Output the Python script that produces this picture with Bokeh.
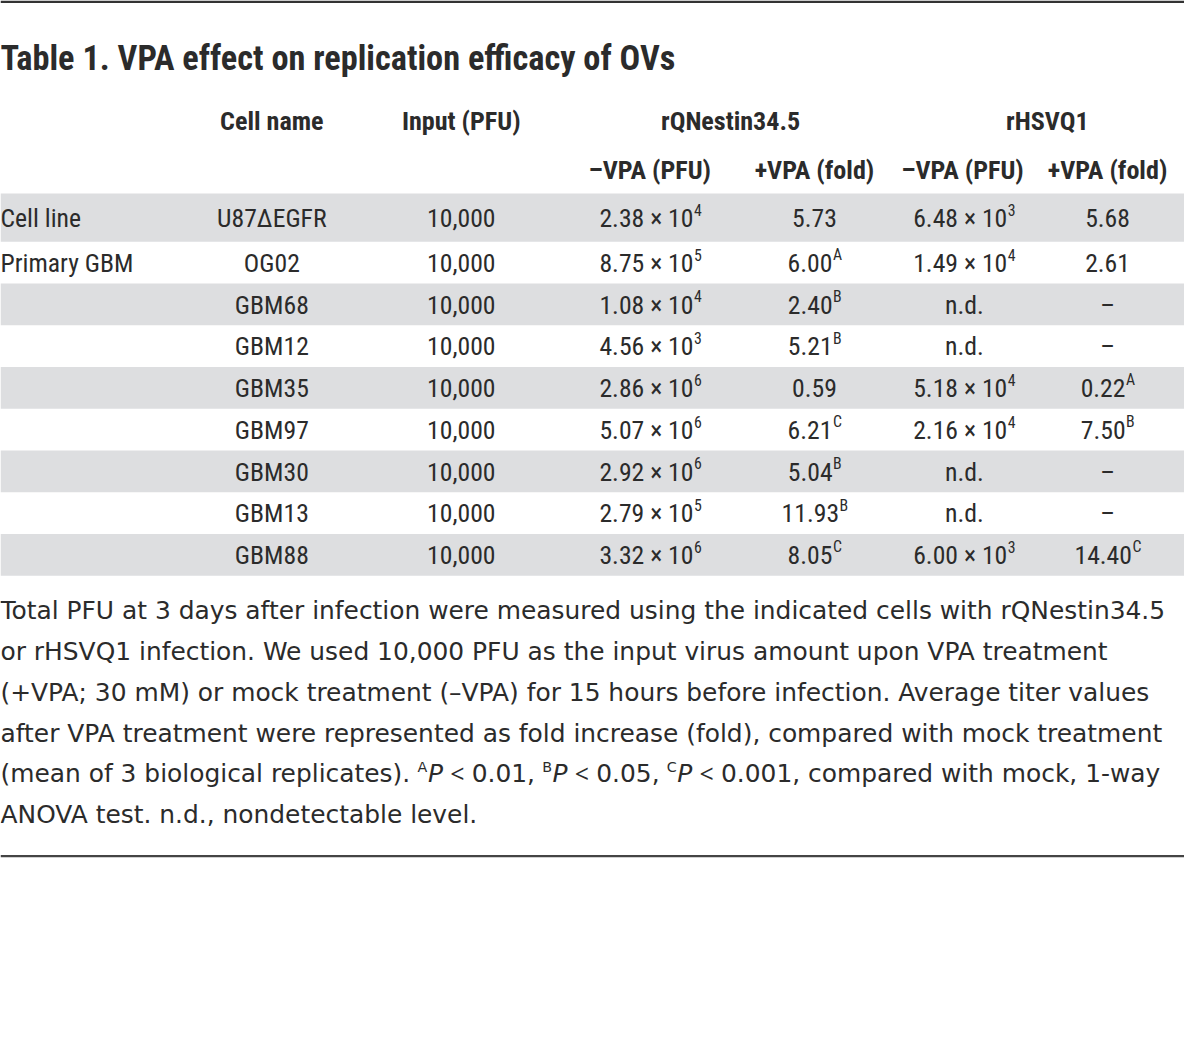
from bokeh.plotting import figure
from bokeh.models import Range1d
from bokeh.core.properties import value
from bokeh.embed import file_html
from bokeh.resources import INLINE

# ---------------- data ----------------
title = "Table 1. VPA effect on replication efficacy of OVs"
header_top = ["Cell name", "Input (PFU)", "rQNestin34.5", "rHSVQ1"]
header_sub = ["\u2013VPA (PFU)", "+VPA (fold)", "\u2013VPA (PFU)", "+VPA (fold)"]
groups = ["Cell line", "Primary GBM", "", "", "", "", "", "", ""]
cell_names = ["U87\u0394EGFR", "OG02", "GBM68", "GBM12", "GBM35", "GBM97", "GBM30", "GBM13", "GBM88"]
input_pfu = [10000, 10000, 10000, 10000, 10000, 10000, 10000, 10000, 10000]
rq_minus_mant = [2.38, 8.75, 1.08, 4.56, 2.86, 5.07, 2.92, 2.79, 3.32]
rq_minus_exp = [4, 5, 4, 3, 6, 6, 6, 5, 6]
rq_fold = [5.73, 6.00, 2.40, 5.21, 0.59, 6.21, 5.04, 11.93, 8.05]
rq_sig = ["", "A", "B", "B", "", "C", "B", "B", "C"]
hs_minus_mant = [6.48, 1.49, None, None, 5.18, 2.16, None, None, 6.00]
hs_minus_exp = [3, 4, None, None, 4, 4, None, None, 3]
hs_fold = [5.68, 2.61, None, None, 0.22, 7.50, None, None, 14.40]
hs_sig = ["", "", "", "", "A", "B", "", "", "C"]
caption_lines = [
    "Total PFU at 3 days after infection were measured using the indicated cells with rQNestin34.5",
    "or rHSVQ1 infection. We used 10,000 PFU as the input virus amount upon VPA treatment",
    "(+VPA; 30 mM) or mock treatment (\u2013VPA) for 15 hours before infection. Average titer values",
    "after VPA treatment were represented as fold increase (fold), compared with mock treatment",
    None,
    "ANOVA test. n.d., nondetectable level.",
]
caption_line5 = [
    ("(mean of 3 biological replicates). ", "n"), ("A", "s"), ("P", "i"), (" ", "n"), ("<", "o"),
    (" 0.01, ", "n"), ("B", "s"), ("P", "i"), (" ", "n"), ("<", "o"),
    (" 0.05, ", "n"), ("C", "s"), ("P", "i"), (" ", "n"), ("<", "o"),
    (" 0.001, compared with mock, 1-way", "n"),
]

# ---------------- layout ----------------
W, H = 1184, 1022
S = W / 1200.0
TXT = "#2b2b2b"
SHADE = "#dddee0"
TFONT = "Roboto Condensed, DejaVu Sans Condensed, Liberation Sans Narrow, Roboto, sans-serif"
CFONT = "DejaVu Sans, sans-serif"
OFONT = "Open Sans, Noto Sans, sans-serif"

col_x = [275, 467, 659, 825, 977, 1122]
row_y = [221] + [266.5 + 42.4 * i for i in range(8)]
row_top = [196] + [245 + 42.4 * i for i in range(8)]
row_bot = [245] + [245 + 42.4 * (i + 1) for i in range(8)]

# approximate advance widths (em) of the condensed table face
RC = {c: 0.505 for c in "0123456789"}
RC.update({".": 0.24, ",": 0.22, " ": 0.22, "\u00d7": 0.44, "n": 0.50, "d": 0.50,
           "A": 0.58, "B": 0.56, "C": 0.58, "\u2013": 0.5})


def tw(s, fs):
    return sum(RC.get(c, 0.5) for c in s) * fs / S


# DejaVu Sans advance widths (em)
DV = {" ": .318, "a": .613, "b": .635, "c": .550, "d": .635, "e": .615, "f": .352, "g": .635,
      "h": .634, "i": .278, "j": .278, "k": .579, "l": .278, "m": .974, "n": .634, "o": .612,
      "p": .635, "q": .635, "r": .411, "s": .521, "t": .392, "u": .634, "v": .592, "w": .818,
      "x": .592, "y": .592, "z": .525, "(": .390, ")": .390, ".": .318, ",": .318, "<": .838,
      "-": .361, "P": .603, "A": .684, "B": .686, "C": .698}
for d in "0123456789":
    DV[d] = .636


def cw(s, fs):
    return sum(DV.get(c, .62) for c in s) * fs / S


p = figure(width=W, height=H, x_range=Range1d(0, 1200), y_range=Range1d(1038, 0),
           output_backend="svg", toolbar_location=None, min_border=0)
p.axis.visible = False
p.grid.visible = False
p.outline_line_color = None
p.background_fill_color = "white"
p.border_fill_color = "white"

# shading of alternate rows
shade_rows = [i for i in range(len(cell_names)) if i % 2 == 0]
p.quad(left=[0] * len(shade_rows), right=[1200] * len(shade_rows),
       top=[row_top[i] for i in shade_rows], bottom=[row_bot[i] for i in shade_rows],
       fill_color=SHADE, line_color=None)

# rules
p.segment(x0=[0], y0=[1.2], x1=[1200], y1=[1.2], line_color="#333333", line_width=2.5)
p.segment(x0=[0], y0=[869], x1=[1200], y1=[869], line_color="#444444", line_width=2.2)

FS_T = 34.8 * S
FS_H = 26.5 * S
FS_D = 26 * S
FS_SUP = 16 * S
FS_C = 25.2 * S
FS_CSUP = 14.5 * S


def txt(x, y, s, fs, font=TFONT, align="left", base="middle", style="normal"):
    p.text(x=x, y=y, text=s, text_font=value(font), text_font_size=f"{fs:.1f}px",
           text_align=align, text_baseline=base, text_color=TXT, text_font_style=style)


# title
txt([0], [58], [title], FS_T, base="alphabetic", style="bold")

# headers
hx = [col_x[0], col_x[1], 740, 1061]
txt(hx, [122] * 4, header_top, FS_H, align="center", style="bold")
txt([658, 825, 975, 1122], [172] * 4, header_sub, FS_H, align="center", style="bold")

# group + cell name + input
txt([0] * 9, row_y, groups, FS_D)
txt([col_x[0]] * 9, row_y, cell_names, FS_D, align="center")
txt([col_x[1]] * 9, row_y, [f"{v:,}" for v in input_pfu], FS_D, align="center")


def sup_cells(cx, bases, sups):
    """base text right-aligned at an anchor, superscript left-aligned at it"""
    bx, by, bt, sx, sy, st, px, py, pt = [], [], [], [], [], [], [], [], []
    for i, (b, s) in enumerate(zip(bases, sups)):
        if s:
            wb = tw(b, FS_D)
            ws = tw(s, FS_SUP)
            anchor = cx - (wb + ws) / 2 + wb
            bx.append(anchor); by.append(row_y[i]); bt.append(b)
            sx.append(anchor + 0.5); sy.append(row_y[i] - 8.5); st.append(s)
        else:
            px.append(cx); py.append(row_y[i]); pt.append(b)
    if bt:
        txt(bx, by, bt, FS_D, align="right")
        txt(sx, sy, st, FS_SUP)
    if pt:
        txt(px, py, pt, FS_D, align="center")


sup_cells(col_x[2], [f"{m:.2f} \u00d7 10" for m in rq_minus_mant], [str(e) for e in rq_minus_exp])
sup_cells(col_x[3], [f"{v:.2f}" for v in rq_fold], rq_sig)
sup_cells(col_x[4], [f"{m:.2f} \u00d7 10" if m is not None else "n.d." for m in hs_minus_mant],
          [str(e) if e is not None else "" for e in hs_minus_exp])
sup_cells(col_x[5], [f"{v:.2f}" if v is not None else "\u2013" for v in hs_fold], hs_sig)

# caption
cap_y = [620, 661, 702.5, 744, 785, 827]
for i, line in enumerate(caption_lines):
    if line is not None:
        txt([0], [cap_y[i]], [line], FS_C, font=CFONT)

# line with superscripts and italic P, drawn piece by piece
x = 0.0
sp = cw(" ", FS_C) * 0.92
for s, kind in caption_line5:
    core = s.strip()
    lead = len(s) - len(s.lstrip())
    trail = len(s) - len(s.rstrip())
    if not core:
        x += len(s) * sp
        continue
    x += lead * sp
    if kind == "n":
        txt([x], [cap_y[4]], [core], FS_C, font=CFONT)
        x += cw(core, FS_C)
    elif kind == "s":
        txt([x], [cap_y[4] - 6], [core], FS_CSUP, font=CFONT)
        x += cw(core, FS_CSUP) + 0.5
    elif kind == "o":
        txt([x], [cap_y[4]], [core], FS_C, font=OFONT)
        x += 0.572 * FS_C / S
    else:
        txt([x], [cap_y[4]], [core], FS_C, font=CFONT, style="italic")
        x += cw(core, FS_C)
    x += trail * sp

open("out.html", "w").write(file_html(p, INLINE))
